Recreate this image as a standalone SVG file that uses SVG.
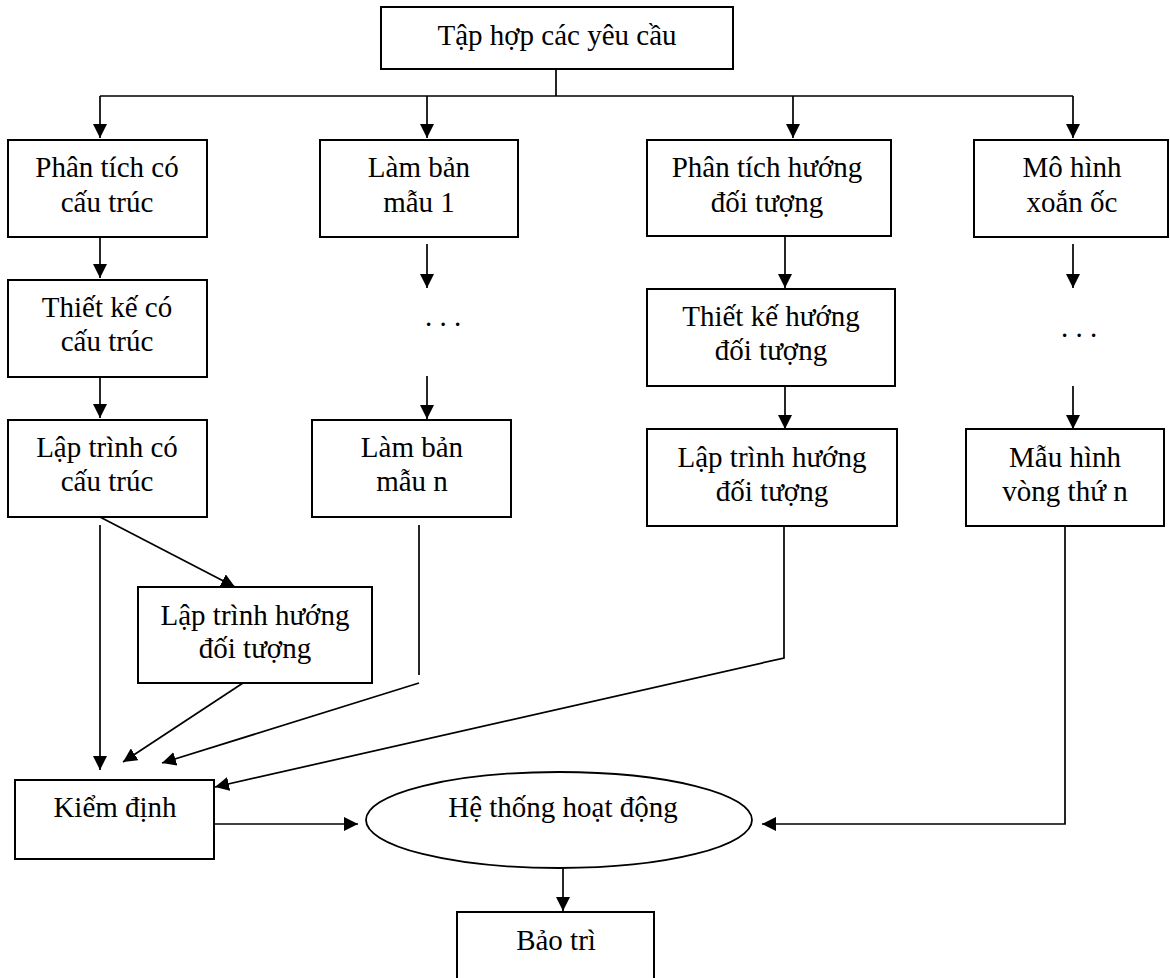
<svg xmlns="http://www.w3.org/2000/svg" width="1170" height="978" viewBox="0 0 1170 978">
  <style>
    .box { fill: #ffffff; stroke: #000000; stroke-width: 2; }
    .oval { fill: #ffffff; stroke: #000000; stroke-width: 1.8; }
    .lbl { font-family: "Liberation Serif", "Times New Roman", serif; font-size: 29px; fill: #000000; text-anchor: middle; }
    .dots { font-family: "Liberation Serif", "Times New Roman", serif; font-size: 29px; fill: #000000; }
    .link { fill: none; stroke: #000000; stroke-width: 1.7; }
    .arrow { fill: none; stroke: #000000; stroke-width: 1.7; marker-end: url(#head); }
  </style>
  <defs>
    <marker id="head" markerWidth="14" markerHeight="14" refX="14" refY="7" orient="auto" markerUnits="userSpaceOnUse">
      <path d="M0,0 L14,7 L0,14 z" fill="#000000"/>
    </marker>
  </defs>
  <rect width="1170" height="978" fill="#ffffff"/>

  <!-- connectors -->
  <g id="connectors">
    <!-- fan-out from the requirements box -->
    <path class="link" d="M556,69 V96 M100,96 H1073"/>
    <path class="arrow" d="M100,96 V138"/>
    <path class="arrow" d="M427,96 V138"/>
    <path class="arrow" d="M793,96 V138"/>
    <path class="arrow" d="M1073,96 V138"/>

    <!-- structured column -->
    <path class="arrow" d="M100,237 V278"/>
    <path class="arrow" d="M100,377 V418"/>
    <path class="arrow" d="M100,525 V770"/>
    <path class="arrow" d="M100,517 L235,587"/>
    <path class="arrow" d="M243,683 L123,762"/>

    <!-- prototyping column -->
    <path class="arrow" d="M427,244 V288"/>
    <path class="arrow" d="M427,376 V419"/>
    <path class="link" d="M419,525 V675"/>
    <path class="arrow" d="M419,683 L162,763"/>

    <!-- object-oriented column -->
    <path class="arrow" d="M785,236 V288"/>
    <path class="arrow" d="M785,386 V429"/>
    <path class="arrow" d="M784,526 V658 L215,787"/>

    <!-- spiral column -->
    <path class="arrow" d="M1073,244 V288"/>
    <path class="arrow" d="M1073,386 V429"/>
    <path class="arrow" d="M1065,526 V824 H762"/>

    <!-- bottom flow -->
    <path class="arrow" d="M214,824 H358"/>
    <path class="arrow" d="M563,868 V911"/>

    <!-- elided steps -->
    <text class="dots" x="425" y="326">. . .</text>
    <text class="dots" x="1061" y="337">. . .</text>
  </g>

  <g id="n-requirements">
    <rect class="box" x="381" y="7" width="352" height="62"/>
    <text class="lbl" x="557" y="45">Tập hợp các yêu cầu</text>
  </g>

  <g id="n-structured-analysis">
    <rect class="box" x="8" y="140" width="199" height="97"/>
    <text class="lbl" x="107" y="177">Phân tích có</text>
    <text class="lbl" x="107" y="212">cấu trúc</text>
  </g>

  <g id="n-prototype-1">
    <rect class="box" x="320" y="140" width="198" height="97"/>
    <text class="lbl" x="419" y="177">Làm bản</text>
    <text class="lbl" x="419" y="212">mẫu 1</text>
  </g>

  <g id="n-oo-analysis">
    <rect class="box" x="647" y="140" width="244" height="96"/>
    <text class="lbl" x="767" y="177">Phân tích hướng</text>
    <text class="lbl" x="767" y="212">đối tượng</text>
  </g>

  <g id="n-spiral">
    <rect class="box" x="974" y="140" width="194" height="97"/>
    <text class="lbl" x="1072" y="177">Mô hình</text>
    <text class="lbl" x="1072" y="212">xoắn ốc</text>
  </g>

  <g id="n-structured-design">
    <rect class="box" x="8" y="280" width="199" height="97"/>
    <text class="lbl" x="107" y="317">Thiết kế có</text>
    <text class="lbl" x="107" y="351">cấu trúc</text>
  </g>

  <g id="n-structured-programming">
    <rect class="box" x="8" y="420" width="199" height="97"/>
    <text class="lbl" x="107" y="457">Lập trình có</text>
    <text class="lbl" x="107" y="491">cấu trúc</text>
  </g>

  <g id="n-prototype-n">
    <rect class="box" x="312" y="420" width="199" height="97"/>
    <text class="lbl" x="412" y="457">Làm bản</text>
    <text class="lbl" x="412" y="491">mẫu n</text>
  </g>

  <g id="n-oo-design">
    <rect class="box" x="647" y="289" width="248" height="97"/>
    <text class="lbl" x="771" y="326">Thiết kế hướng</text>
    <text class="lbl" x="771" y="360">đối tượng</text>
  </g>

  <g id="n-oo-programming">
    <rect class="box" x="647" y="429" width="250" height="97"/>
    <text class="lbl" x="772" y="467">Lập trình hướng</text>
    <text class="lbl" x="772" y="501">đối tượng</text>
  </g>

  <g id="n-spiral-n">
    <rect class="box" x="966" y="429" width="198" height="97"/>
    <text class="lbl" x="1065" y="467">Mẫu hình</text>
    <text class="lbl" x="1065" y="501">vòng thứ n</text>
  </g>

  <g id="n-oo-programming-2">
    <rect class="box" x="138" y="587" width="234" height="96"/>
    <text class="lbl" x="255" y="625">Lập trình hướng</text>
    <text class="lbl" x="255" y="658">đối tượng</text>
  </g>

  <g id="n-testing">
    <rect class="box" x="15" y="780" width="199" height="79"/>
    <text class="lbl" x="115" y="817">Kiểm định</text>
  </g>

  <g id="n-operation">
    <ellipse class="oval" cx="559" cy="820" rx="193" ry="48"/>
    <text class="lbl" x="563" y="817">Hệ thống hoạt động</text>
  </g>

  <g id="n-maintenance">
    <rect class="box" x="457" y="912" width="197" height="80"/>
    <text class="lbl" x="556" y="950">Bảo trì</text>
  </g>
</svg>
